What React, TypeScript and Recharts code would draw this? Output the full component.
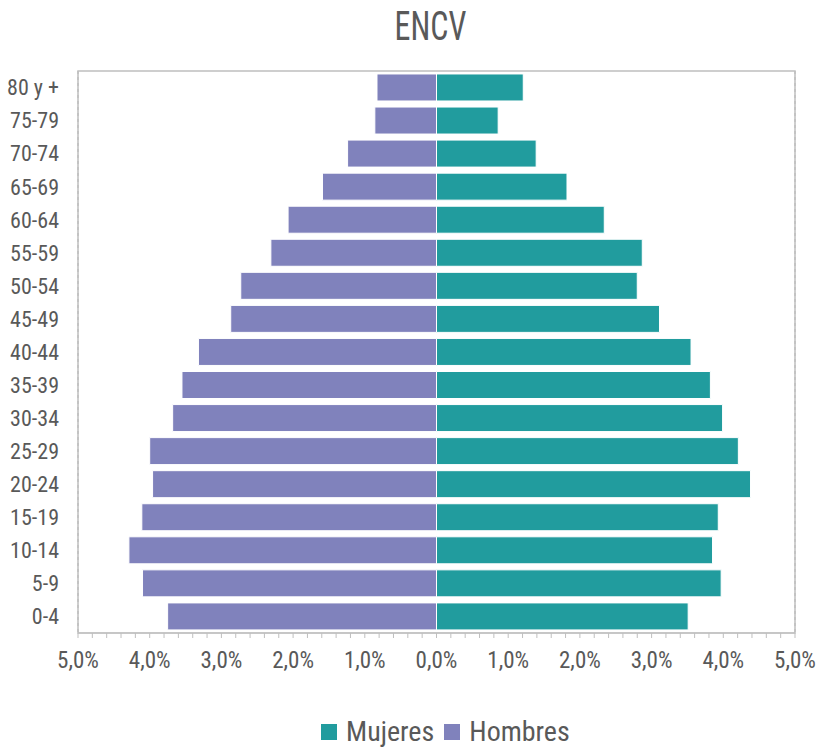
import { BarChart, Bar, XAxis, YAxis, CartesianGrid, ReferenceArea, Legend } from "recharts"

const ageGroups = ["80 y +", "75-79", "70-74", "65-69", "60-64", "55-59", "50-54", "45-49", "40-44", "35-39", "30-34", "25-29", "20-24", "15-19", "10-14", "5-9", "0-4"]
const hombres = [0.83, 0.86, 1.24, 1.59, 2.07, 2.31, 2.73, 2.87, 3.32, 3.55, 3.68, 4.0, 3.96, 4.11, 4.29, 4.1, 3.75]
const mujeres = [1.21, 0.86, 1.39, 1.82, 2.34, 2.87, 2.8, 3.11, 3.55, 3.82, 3.99, 4.21, 4.38, 3.93, 3.85, 3.97, 3.51]
const majorTicks = [-5, -4, -3, -2, -1, 0, 1, 2, 3, 4, 5]
const minorTicks = Array.from({ length: 51 }, (_, i) => Math.round((-5 + i * 0.2) * 10) / 10)

const FONT = '"Roboto Condensed", Roboto, sans-serif'
const TEXT = "#595959"
const TEAL = "#219C9E"
const PURPLE = "#8082BC"
const LINE = "#BFBFBF"

const data = ageGroups.map((g, i) => ({ grupo: g, Hombres: -hombres[i], Mujeres: mujeres[i] }))

const fmt = (v: number) => (Number.isInteger(v) ? `${Math.abs(v).toFixed(1).replace(".", ",")}%` : "")

function LegendBox() {
  const items = [
    { label: "Mujeres", color: TEAL },
    { label: "Hombres", color: PURPLE },
  ]
  return (
    <div style={{ display: "flex", alignItems: "center", fontFamily: FONT, fontSize: 28, lineHeight: "26px", color: TEXT }}>
      {items.map((it) => (
        <div key={it.label} style={{ display: "flex", alignItems: "center", marginRight: 10 }}>
          <span style={{ width: 16, height: 16, background: it.color, display: "inline-block", marginRight: 9 }} />
          <span>{it.label}</span>
        </div>
      ))}
    </div>
  )
}

export default function App() {
  return (
    <div style={{ position: "absolute", left: 0, top: 0, width: 821, height: 747, background: "#fff" }}>
      <div
        style={{
          position: "absolute",
          top: 3,
          left: 0,
          width: 821,
          textAlign: "center",
          fontFamily: FONT,
          fontSize: 40,
          color: TEXT,
          transform: "translateX(20px) scaleX(0.8)",
        }}
      >
        ENCV
      </div>
      <BarChart
        width={821}
        height={747}
        data={data}
        layout="vertical"
        stackOffset="sign"
        barCategoryGap="9%"
        margin={{ top: 71, right: 26, bottom: 74, left: 0 }}
      >
        <CartesianGrid xAxisId="grid" horizontal={false} stroke="#A6A6A6" strokeDasharray="3 3" />
        <XAxis xAxisId="grid" type="number" orientation="top" height={0} domain={[-5, 5]} ticks={majorTicks} hide />
        <XAxis
          xAxisId="x"
          type="number"
          domain={[-5, 5]}
          ticks={minorTicks}
          interval={0}
          tickFormatter={fmt}
          height={40}
          tickSize={5}
          tickMargin={14}
          axisLine={{ stroke: LINE }}
          tickLine={{ stroke: LINE }}
          tick={{ fill: TEXT, fontFamily: FONT, fontSize: 23 }}
        />
        <YAxis
          type="category"
          dataKey="grupo"
          width={78}
          tickLine={false}
          axisLine={false}
          tickMargin={13}
          interval={0}
          tick={{ fill: TEXT, fontFamily: FONT, fontSize: 22 }}
        />
        <ReferenceArea xAxisId="x" x1={-5} x2={5} fill="none" stroke={LINE} strokeWidth={1.5} />
        <Bar xAxisId="x" dataKey="Hombres" stackId="a" fill={PURPLE} stroke="#fff" strokeWidth={1} isAnimationActive={false} />
        <Bar xAxisId="x" dataKey="Mujeres" stackId="a" fill={TEAL} stroke="#fff" strokeWidth={1} isAnimationActive={false} />
        <Legend
          layout="horizontal"
          verticalAlign="middle"
          wrapperStyle={{ top: 719, left: 321, width: 300 }}
          content={() => <LegendBox />}
        />
      </BarChart>
    </div>
  )
}
